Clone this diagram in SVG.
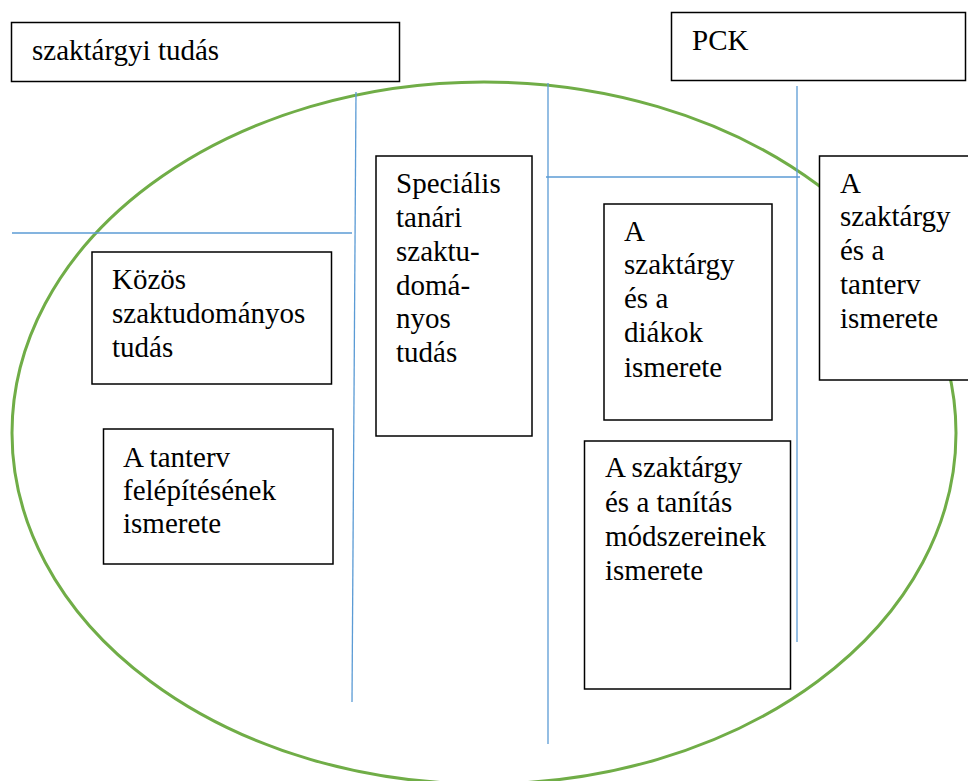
<svg xmlns="http://www.w3.org/2000/svg" width="968" height="781" viewBox="0 0 968 781">
<style>
.box{fill:#fff;stroke:#000;stroke-width:1.5}
.t{font-family:"Liberation Serif", "Times New Roman", serif;font-size:29px;fill:#000}
.ln{stroke:#5B9BD5;stroke-width:1.3;fill:none}
.ell{fill:none;stroke:#70AD47;stroke-width:3}
</style>
<rect width="968" height="781" fill="#fff"/>
<ellipse class="ell" cx="484" cy="433" rx="472" ry="351"/>
<g id="connectors">
<line class="ln" x1="356" y1="92" x2="352" y2="702"/>
<line class="ln" x1="12" y1="233" x2="352" y2="233"/>
<line class="ln" x1="548" y1="83" x2="548" y2="744"/>
<line class="ln" x1="546" y1="177" x2="800" y2="177"/>
<line class="ln" x1="797" y1="86" x2="797" y2="642"/>
</g>
<g id="szaktargyi">
<rect class="box" x="11.5" y="22.5" width="388" height="59"/>
<text class="t" x="32" y="60">szaktárgyi tudás</text>
</g>
<g id="pck">
<rect class="box" x="671.5" y="12.5" width="294" height="68"/>
<text class="t" x="692" y="50">PCK</text>
</g>
<g id="kozos">
<rect class="box" x="92" y="252" width="239.5" height="132"/>
<text class="t"><tspan x="112" y="289">Közös</tspan><tspan x="112" y="323">szaktudományos</tspan><tspan x="112" y="357">tudás</tspan></text>
</g>
<g id="tanterv-felepites">
<rect class="box" x="103.5" y="429" width="229.5" height="135"/>
<text class="t"><tspan x="123" y="467">A tanterv</tspan><tspan x="123" y="500">felépítésének</tspan><tspan x="123" y="533">ismerete</tspan></text>
</g>
<g id="specialis">
<rect class="box" x="376" y="156" width="156" height="280"/>
<text class="t"><tspan x="396" y="193">Speciális</tspan><tspan x="396" y="227">tanári</tspan><tspan x="396" y="261">szaktu-</tspan><tspan x="396" y="295">domá-</tspan><tspan x="396" y="328">nyos</tspan><tspan x="396" y="362">tudás</tspan></text>
</g>
<g id="diakok">
<rect class="box" x="604" y="204" width="168" height="216"/>
<text class="t"><tspan x="624" y="241">A</tspan><tspan x="624" y="274">szaktárgy</tspan><tspan x="624" y="308">és a</tspan><tspan x="624" y="342">diákok</tspan><tspan x="624" y="377">ismerete</tspan></text>
</g>
<g id="modszerek">
<rect class="box" x="584.5" y="441" width="206" height="248"/>
<text class="t"><tspan x="605" y="477">A szaktárgy</tspan><tspan x="605" y="512">és a tanítás</tspan><tspan x="605" y="546">módszereinek</tspan><tspan x="605" y="580">ismerete</tspan></text>
</g>
<g id="tanterv-ismerete">
<rect class="box" x="819.5" y="156" width="160" height="224"/>
<text class="t"><tspan x="840" y="193">A</tspan><tspan x="840" y="226">szaktárgy</tspan><tspan x="840" y="260">és a</tspan><tspan x="840" y="294">tanterv</tspan><tspan x="840" y="328">ismerete</tspan></text>
</g>
</svg>
